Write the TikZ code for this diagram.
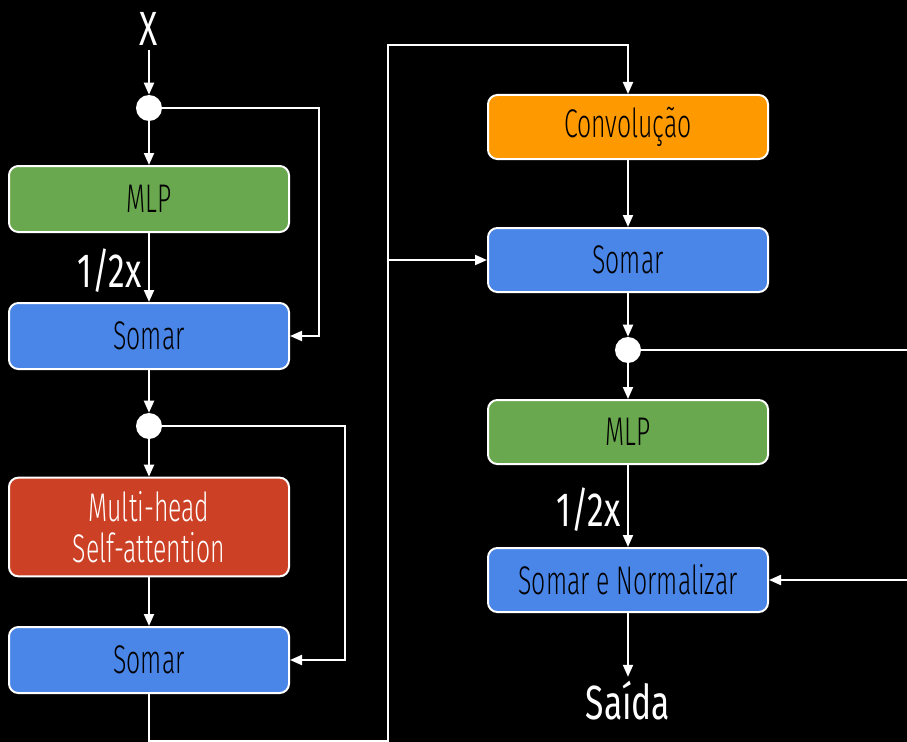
\documentclass[tikz,border=0pt]{standalone}
\usepackage{fontspec}
\setmainfont{Fira Sans Light}[FakeStretch=0.62]
\newfontfamily\rotulofont{Fira Sans}[FakeStretch=0.7]
\usetikzlibrary{arrows.meta}
\definecolor{mlpverde}{HTML}{6AA84F}
\definecolor{somaazul}{HTML}{4A86E8}
\definecolor{attvermelho}{HTML}{CC4125}
\definecolor{convlaranja}{HTML}{FF9900}
\begin{document}
\begin{tikzpicture}[x=0.75pt,y=-0.75pt,
    bloco/.style={draw=white, line width=1.5pt, rounded corners=7pt,
      minimum width=210pt, minimum height=49.5pt, text=black, align=center,
      font=\fontsize{30}{31}\selectfont},
    ponto/.style={circle, fill=white, minimum size=19.5pt, inner sep=0pt},
    seta/.style={draw=white, line width=1.5pt, -{Triangle[length=9pt,width=7.5pt]}},
    rotulo/.style={text=white, font=\rotulofont\fontsize{36}{40}\selectfont}]
  \fill[black] (0,0) rectangle (907,742);
  \clip (0,0) rectangle (907,742);

  % coluna da esquerda
  \node[rotulo] (x) at (149,29) {X};
  \node[ponto] (p1) at (149,108) {};
  \node[bloco, fill=mlpverde] (mlp1) at (149,199) {MLP};
  \node[bloco, fill=somaazul] (soma1) at (149,336) {Somar};
  \node[ponto] (p2) at (149,426) {};
  \node[bloco, fill=attvermelho, text=white, minimum height=74pt] (msa) at (149,527) {Multi-head\\Self-attention};
  \node[bloco, fill=somaazul] (soma2) at (149,660) {Somar};

  % coluna da direita
  \node[bloco, fill=convlaranja, minimum height=48pt] (conv) at (628,127) {Convolução};
  \node[bloco, fill=somaazul, minimum height=48pt] (soma3) at (628,260) {Somar};
  \node[ponto] (p3) at (628,350) {};
  \node[bloco, fill=mlpverde, minimum height=48pt] (mlp2) at (628,432) {MLP};
  \node[bloco, fill=somaazul, minimum height=48pt] (somanorm) at (628,580) {Somar e Normalizar};
  \node[rotulo] (saida) at (628,701) {Saída};

  % pontos de apoio dos desvios
  \coordinate (r1) at (319,0);
  \coordinate (r2) at (345,0);
  \coordinate (fundo) at (0,741);
  \coordinate (topo) at (388,45);
  \coordinate (r4) at (940,0);

  \draw[seta] (x) -- (p1);
  \draw[seta] (p1) -- (mlp1);
  \draw[seta] (mlp1) -- node[rotulo, left, pos=0.55, inner sep=5pt] {1/2x} (soma1);
  \draw[seta] (p1.east) -- (p1.east -| r1) |- (soma1.east);
  \draw[seta] (soma1) -- (p2);
  \draw[seta] (p2) -- (msa);
  \draw[seta] (msa) -- (soma2);
  \draw[seta] (p2.east) -- (p2.east -| r2) |- (soma2.east);

  \draw[seta] (soma2) -- (soma2 |- fundo) -| (topo) -| (conv);
  \draw[seta] (soma3.west -| topo) -- (soma3);
  \draw[seta] (conv) -- (soma3);
  \draw[seta] (soma3) -- (p3);
  \draw[seta] (p3) -- (mlp2);
  \draw[seta] (mlp2) -- node[rotulo, left, pos=0.55, inner sep=5pt] {1/2x} (somanorm);
  \draw[seta] (p3.east) -- (p3.east -| r4) |- (somanorm.east);
  \draw[seta] (somanorm) -- (saida);
\end{tikzpicture}
\end{document}
